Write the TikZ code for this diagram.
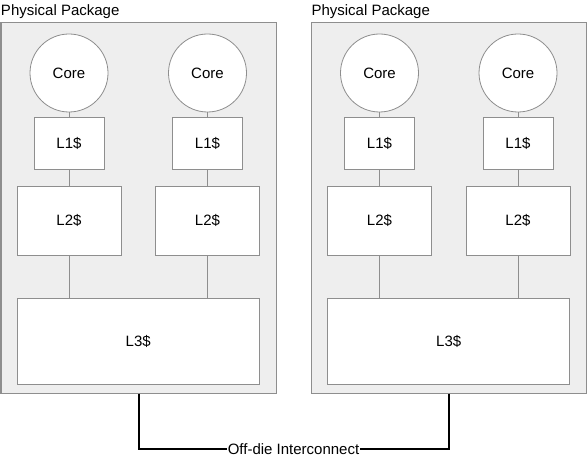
\documentclass[tikz,border=0pt]{standalone}
\usepackage{fontspec}
\setmainfont{Liberation Sans}
\definecolor{pkgfill}{HTML}{EEEEEE}
\definecolor{edge}{HTML}{8E8E8E}
\begin{document}
\begin{tikzpicture}[x=1bp,y=-1bp,
  every node/.style={font=\fontsize{15bp}{18bp}\selectfont},
  pkg/.style={draw=edge,fill=pkgfill,line width=1bp,inner sep=0,anchor=north west,minimum width=275.2bp,minimum height=370.4bp},
  corenode/.style={circle,draw=edge,fill=white,line width=0.8bp,minimum size=78bp,inner sep=0},
  cachebox/.style={draw=edge,fill=white,line width=0.8bp,inner sep=0},
  link/.style={draw=edge,line width=0.8bp},
  ic/.style={draw=black,line width=2bp}]
\useasboundingbox (0,0) rectangle (587,459);
\foreach \p/\dx in {A/0,B/310.5}{
  \begin{scope}[xshift=\dx bp]
  \node[pkg] (pkg\p) at (0.5,22.3) {};
  \node[anchor=base west,inner sep=0] (title\p) at (0.8,16) {Physical Package};
  \node[corenode] (core\p1) at (69,73) {Core};
  \node[corenode] (core\p2) at (207.5,73) {Core};
  \node[cachebox,minimum width=70bp,minimum height=52bp] (lone\p1) at (69,143) {L1\$};
  \node[cachebox,minimum width=70bp,minimum height=52bp] (lone\p2) at (207.5,143) {L1\$};
  \node[cachebox,minimum width=104bp,minimum height=69bp] (ltwo\p1) at (69,220.5) {L2\$};
  \node[cachebox,minimum width=104bp,minimum height=69bp] (ltwo\p2) at (207.5,220.5) {L2\$};
  \node[cachebox,minimum width=242bp,minimum height=86bp] (lthree\p) at (138.2,341) {L3\$};
  \draw[link] (core\p1) -- (lone\p1);
  \draw[link] (core\p2) -- (lone\p2);
  \draw[link] (lone\p1) -- (ltwo\p1);
  \draw[link] (lone\p2) -- (ltwo\p2);
  \draw[link] (ltwo\p1) -- (ltwo\p1 |- lthree\p.north);
  \draw[link] (ltwo\p2) -- (ltwo\p2 |- lthree\p.north);
  \end{scope}
}
\node[inner sep=1bp] (offdie) at (293.5,449) {Off-die Interconnect};
\draw[ic] (pkgA.south) |- (offdie.west);
\draw[ic] (pkgB.south) |- (offdie.east);
\end{tikzpicture}
\end{document}
